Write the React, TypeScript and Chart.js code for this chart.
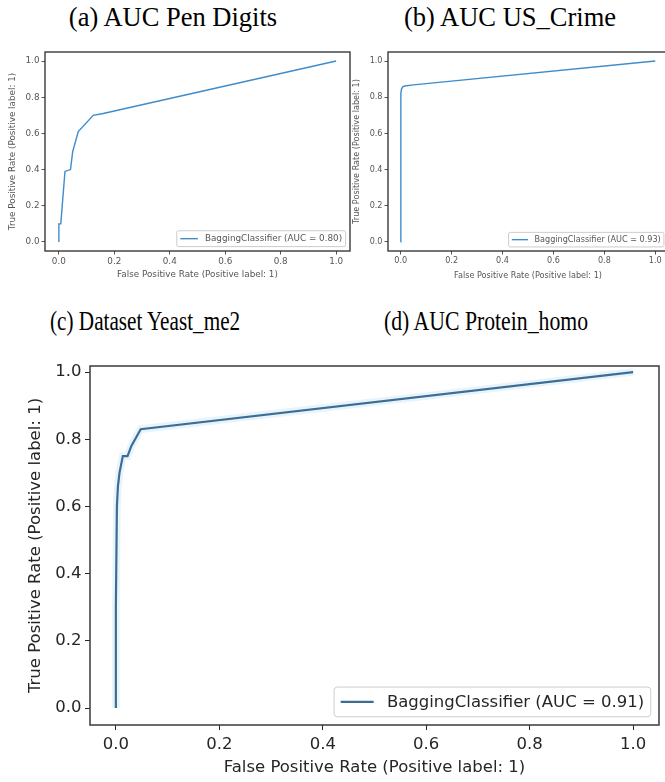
import React, { useEffect, useRef } from "react";
import { Chart, registerables } from "chart.js";

Chart.register(...registerables);

// ---------- data ----------
const xTickValues = [0, 0.2, 0.4, 0.6, 0.8, 1.0];
const yTickValues = [0, 0.2, 0.4, 0.6, 0.8, 1.0];

const fprPen = [0, 0, 0.007, 0.022, 0.042, 0.05, 0.07, 0.124, 0.16, 1.0];
const tprPen = [0, 0.1, 0.1, 0.39, 0.4, 0.5, 0.61, 0.7, 0.71, 1.0];

const fprCrime = [0, 0, 0.001, 0.003, 0.008, 0.016, 0.05, 1.0];
const tprCrime = [0, 0.78, 0.82, 0.845, 0.858, 0.862, 0.868, 1.0];

const fprYeast = [0, 0, 0.002, 0.004, 0.007, 0.0135, 0.0225, 0.03, 0.048, 1.0];
const tprYeast = [0, 0.3, 0.6, 0.66, 0.7, 0.75, 0.75, 0.78, 0.83, 1.0];

const labelPen = "BaggingClassifier (AUC = 0.80)";
const labelCrime = "BaggingClassifier (AUC = 0.93)";
const labelYeast = "BaggingClassifier (AUC = 0.91)";

const xAxisTitle = "False Positive Rate (Positive label: 1)";
const yAxisTitle = "True Positive Rate (Positive label: 1)";

const panelTitles = [
  "(a) AUC Pen Digits",
  "(b) AUC US_Crime",
  "(c) Dataset Yeast_me2",
  "(d) AUC Protein_homo",
];

// ---------- plugin: matplotlib-like frame + legend ----------
const mplDecor = {
  id: "mplDecor",
  afterDatasetsDraw(chart: any, _args: any, opts: any) {
    const { ctx, chartArea: a } = chart;
    ctx.save();
    ctx.strokeStyle = opts.frameColor;
    ctx.lineWidth = opts.frameWidth;
    ctx.strokeRect(a.left, a.top, a.right - a.left, a.bottom - a.top);

    const ds = chart.data.datasets.find((d: any) => d.label);
    if (ds) {
      const f = opts.legendFont;
      ctx.font = `${f}px "DejaVu Sans"`;
      const tw = ctx.measureText(ds.label).width;
      const pad = 0.4 * f;
      const hl = 2 * f;
      const htp = 0.8 * f;
      const bap = 0.5 * f;
      const w = pad + hl + htp + tw + pad;
      const h = f + 2 * pad;
      const right = a.right - bap;
      const bottom = a.bottom - bap;
      const left = right - w;
      const top = bottom - h;
      const r = 0.2 * f;
      ctx.beginPath();
      ctx.moveTo(left + r, top);
      ctx.lineTo(right - r, top);
      ctx.quadraticCurveTo(right, top, right, top + r);
      ctx.lineTo(right, bottom - r);
      ctx.quadraticCurveTo(right, bottom, right - r, bottom);
      ctx.lineTo(left + r, bottom);
      ctx.quadraticCurveTo(left, bottom, left, bottom - r);
      ctx.lineTo(left, top + r);
      ctx.quadraticCurveTo(left, top, left + r, top);
      ctx.closePath();
      ctx.fillStyle = "rgba(255,255,255,0.8)";
      ctx.fill();
      ctx.strokeStyle = "#cccccc";
      ctx.lineWidth = 1;
      ctx.stroke();
      const my = (top + bottom) / 2;
      ctx.beginPath();
      ctx.strokeStyle = ds.borderColor;
      ctx.lineWidth = ds.borderWidth;
      ctx.moveTo(left + pad, my);
      ctx.lineTo(left + pad + hl, my);
      ctx.stroke();
      ctx.fillStyle = opts.textColor;
      ctx.textBaseline = "middle";
      ctx.textAlign = "left";
      ctx.fillText(ds.label, left + pad + hl + htp, my + 0.5);
    }
    ctx.restore();
  },
};

type Spec = {
  fpr: number[];
  tpr: number[];
  label: string;
  color: string;
  lineWidth: number;
  halo?: string;
  font: number;
  legendFont: number;
  textColor: string;
  tickLen: number;
  xTickPad: number;
  yTickPad: number;
  yWidth: number;
  xHeight: number;
  padding: { top: number; right: number; left: number; bottom: number };
  yMin: number;
  yMax: number;
  yTitlePad: number;
  xTitlePad: number;
  frameWidth: number;
};

function buildConfig(s: Spec): any {
  const pts = s.fpr.map((x, i) => ({ x, y: s.tpr[i] }));
  const datasets: any[] = [
    {
      label: s.label,
      data: pts,
      borderColor: s.color,
      borderWidth: s.lineWidth,
      showLine: true,
      pointRadius: 0,
      tension: 0,
    },
  ];
  if (s.halo) {
    datasets.push({
      data: pts,
      borderColor: s.halo,
      borderWidth: s.lineWidth * 3.5,
      showLine: true,
      pointRadius: 0,
      tension: 0,
    });
  }
  const font = { family: "DejaVu Sans", size: s.font };
  const grid = {
    display: true,
    drawOnChartArea: false,
    drawTicks: true,
    tickLength: s.tickLen,
    tickColor: s.textColor,
    lineWidth: 1,
  };
  return {
    type: "scatter",
    data: { datasets },
    plugins: [mplDecor],
    options: {
      animation: false,
      responsive: false,
      maintainAspectRatio: false,
      devicePixelRatio: 1,
      layout: { padding: s.padding },
      plugins: {
        legend: { display: false },
        tooltip: { enabled: false },
        mplDecor: {
          frameColor: "#3a3a3a",
          frameWidth: s.frameWidth,
          legendFont: s.legendFont,
          textColor: s.textColor,
        },
      },
      scales: {
        x: {
          type: "linear",
          min: -0.05,
          max: 1.05,
          afterBuildTicks: (sc: any) => {
            sc.ticks = xTickValues.map((v) => ({ value: v }));
          },
          afterFit: (sc: any) => {
            sc.height = s.xHeight;
          },
          ticks: {
            font,
            color: s.textColor,
            padding: s.xTickPad,
            maxRotation: 0,
            callback: (v: any) => Number(v).toFixed(1),
          },
          grid,
          border: { display: false },
          title: {
            display: true,
            text: xAxisTitle,
            font,
            color: s.textColor,
            padding: { top: 0, bottom: s.xTitlePad },
          },
        },
        y: {
          type: "linear",
          min: s.yMin,
          max: s.yMax,
          afterBuildTicks: (sc: any) => {
            sc.ticks = yTickValues.map((v) => ({ value: v }));
          },
          afterFit: (sc: any) => {
            sc.width = s.yWidth;
          },
          ticks: {
            font,
            color: s.textColor,
            padding: s.yTickPad,
            callback: (v: any) => Number(v).toFixed(1),
          },
          grid,
          border: { display: false },
          title: {
            display: true,
            text: yAxisTitle,
            font,
            color: s.textColor,
            padding: { top: s.yTitlePad, bottom: 0 },
          },
        },
      },
    },
  };
}

function RocPanel(props: { spec: Spec; left: number; top: number; width: number; height: number }) {
  const ref = useRef<HTMLCanvasElement | null>(null);
  useEffect(() => {
    if (!ref.current) return;
    const chart = new Chart(ref.current, buildConfig(props.spec));
    return () => chart.destroy();
  }, []);
  return (
    <canvas
      ref={ref}
      width={props.width}
      height={props.height}
      style={{
        position: "absolute",
        left: props.left,
        top: props.top,
        width: props.width,
        height: props.height,
      }}
    />
  );
}

const specPen: Spec = {
  fpr: fprPen,
  tpr: tprPen,
  label: labelPen,
  color: "#3f8ccb",
  lineWidth: 1.4,
  font: 8.8,
  legendFont: 8.8,
  textColor: "#555555",
  tickLen: 3.5,
  xTickPad: 2,
  yTickPad: 2,
  yWidth: 45,
  xHeight: 39,
  padding: { top: 22, right: 2, left: 0, bottom: 0 },
  yMin: -0.05,
  yMax: 1.05,
  yTitlePad: 7.7,
  xTitlePad: 9.7,
  frameWidth: 1.4,
};

const specCrime: Spec = {
  fpr: fprCrime,
  tpr: tprCrime,
  label: labelCrime,
  color: "#3f8ccb",
  lineWidth: 1.4,
  font: 8.1,
  legendFont: 8.1,
  textColor: "#555555",
  tickLen: 3.5,
  xTickPad: 2,
  yTickPad: 2,
  yWidth: 38,
  xHeight: 39,
  padding: { top: 22, right: 12, left: 0, bottom: 0 },
  yMin: -0.05,
  yMax: 1.05,
  yTitlePad: 2,
  xTitlePad: 9.7,
  frameWidth: 1.4,
};

const specYeast: Spec = {
  fpr: fprYeast,
  tpr: tprYeast,
  label: labelYeast,
  color: "#3e6d94",
  lineWidth: 2.2,
  halo: "rgba(140,200,240,0.2)",
  font: 16.5,
  legendFont: 16.5,
  textColor: "#262626",
  tickLen: 5,
  xTickPad: 5,
  yTickPad: 3.5,
  yWidth: 90,
  xHeight: 57,
  padding: { top: 26, right: 6, left: 0, bottom: 0 },
  yMin: -0.0506,
  yMax: 1.018,
  yTitlePad: 26,
  xTitlePad: 4,
  frameWidth: 1.5,
};

function Title(props: { text: string; x: number; top: number; sx: number; anchorLeft?: boolean }) {
  return (
    <div
      style={{
        position: "absolute",
        left: props.anchorLeft ? props.x : props.x - 200,
        top: props.top,
        width: props.anchorLeft ? undefined : 400,
        textAlign: props.anchorLeft ? "left" : "center",
        fontFamily: '"Liberation Serif", "Times New Roman", serif',
        fontSize: 26.5,
        lineHeight: 1,
        whiteSpace: "nowrap",
        color: "#000",
        transform: `scaleX(${props.sx})`,
        transformOrigin: props.anchorLeft ? "left center" : "center center",
      }}
    >
      {props.text}
    </div>
  );
}

export default function App() {
  return (
    <div
      style={{
        position: "absolute",
        left: 0,
        top: 0,
        width: 665,
        height: 782,
        overflow: "hidden",
        background: "#ffffff",
      }}
    >
      <Title text={panelTitles[0]} x={173} top={4} sx={1} />
      <Title text={panelTitles[1]} x={510} top={4} sx={1} />
      <Title text={panelTitles[2]} x={50} top={308} sx={0.8} anchorLeft />
      <Title text={panelTitles[3]} x={384} top={308} sx={0.82} anchorLeft />
      <RocPanel spec={specPen} left={0} top={30} width={352} height={260} />
      <RocPanel spec={specCrime} left={350} top={30} width={330} height={260} />
      <RocPanel spec={specYeast} left={0} top={340} width={665} height={442} />
    </div>
  );
}
